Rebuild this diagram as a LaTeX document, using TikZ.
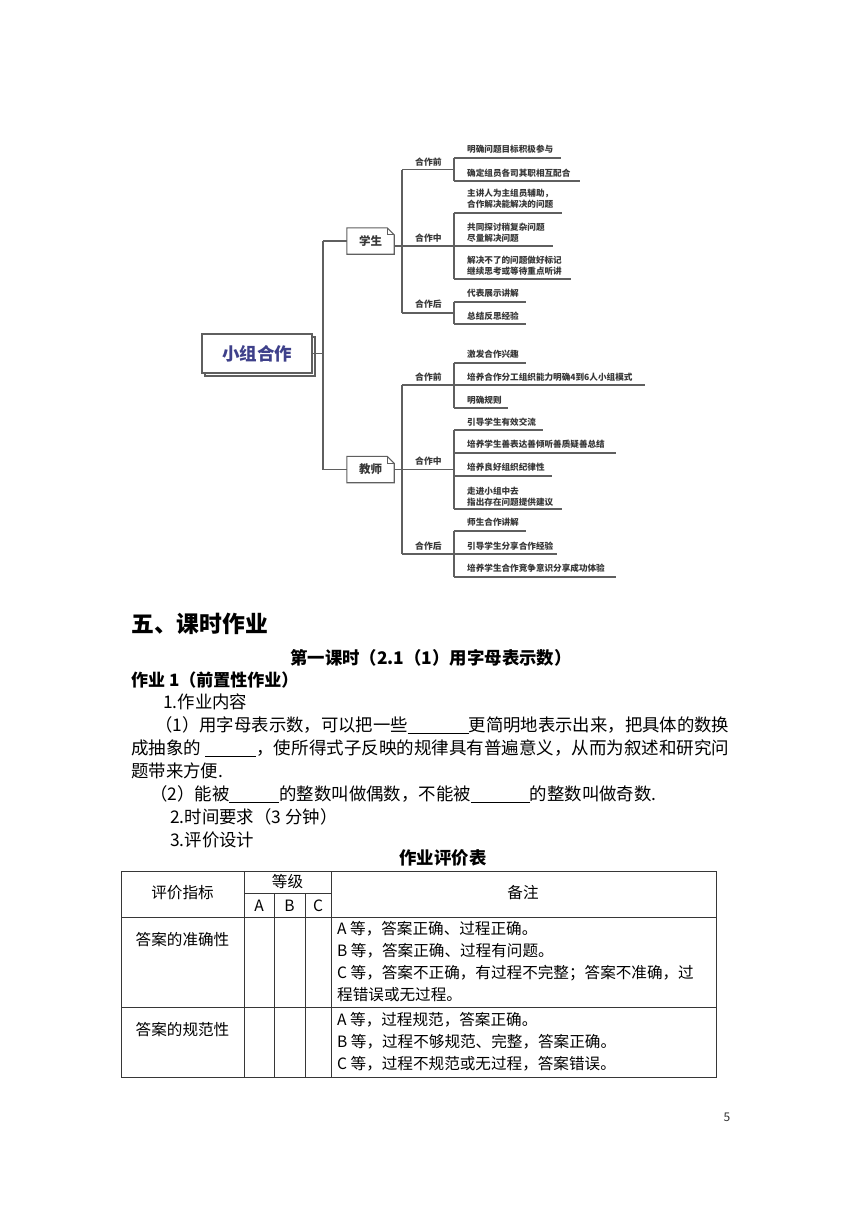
\documentclass[tikz,border=0pt]{standalone}
\usepackage{fontspec}
\usepackage{graphicx}
\setmainfont{Noto Sans CJK SC}
\usetikzlibrary{shadows}
\definecolor{mapgray}{RGB}{95,95,95}
\definecolor{maptext}{RGB}{55,55,55}
\definecolor{rootblue}{RGB}{62,64,138}
\definecolor{tabgray}{RGB}{55,55,55}
\newcommand\leafitem[5]{%
  \node[leaf] (#1) at (467,#2) {#5};
  \coordinate (#1u) at (454,#3);
  \coordinate (#1e) at (#4,#3);
  \draw[mapline] (#1u) -- (#1e);
}
\newcommand\blankline[1]{\rule[-2.5pt]{#1}{0.8pt}}
\begin{document}
\begin{tikzpicture}[x=1pt,y=-1pt,
  mapline/.style={draw=mapgray,line width=1.1pt},
  leaf/.style={anchor=west,inner sep=0pt,font=\bfseries\fontsize{8.6}{10.8}\selectfont,text=maptext,align=left},
  phase/.style={anchor=west,inner sep=0pt,font=\bfseries\fontsize{8.8}{11}\selectfont,text=maptext},
  notebox/.style={minimum width=47pt,minimum height=26pt,inner sep=0pt,font=\bfseries\fontsize{11.5}{13}\selectfont,text=maptext},
  rootbox/.style={draw=mapgray,line width=1.1pt,fill=white,minimum width=110pt,minimum height=39pt,inner sep=0pt,
    font=\bfseries\fontsize{17.5}{20}\selectfont,text=rootblue,copy shadow={shadow xshift=3pt,shadow yshift=-3pt}},
  body/.style={anchor=west,inner sep=0pt,font=\fontsize{17.4}{20}\selectfont},
  headb/.style={inner sep=0pt,font=\bfseries\fontsize{17.4}{20}\selectfont},
  cell/.style={inner sep=0pt,font=\fontsize{15.6}{18}\selectfont},
  note/.style={cell,anchor=west},
  tabline/.style={draw=tabgray,line width=0.9pt}]
\path[use as bounding box,fill=white] (0,0) rectangle (860,1216);

% ---------------- mind map ----------------
\node[rootbox] (root) at (257,353.5) {小组合作};
\node[notebox] (stu) at (370.5,241) {学生};
\node[notebox] (tch) at (370.5,469.5) {教师};
\foreach \b in {stu,tch}{
  \draw[mapline] (\b.north west) -- ([xshift=-7pt]\b.north east) -- ([yshift=-7pt]\b.north east)
     -- (\b.south east) -- (\b.south west) -- cycle;
  \draw[mapline,line width=0.8pt] ([xshift=-7pt]\b.north east) -- ([xshift=-7pt,yshift=-7pt]\b.north east)
     -- ([yshift=-7pt]\b.north east);
}
\coordinate (rj) at (323,353.5);
\coordinate (rs) at (323,241);
\coordinate (rt) at (323,469.5);
\draw[mapline] (root.east) -- (rj);
\draw[mapline] (rs) -- (rt);
\draw[mapline] (rs) -- (stu.west);
\draw[mapline] (rt) -- (tch.west);

% student leaves
\leafitem{s1}{149}{158}{561}{明确问题目标积极参与}
\leafitem{s2}{173}{181}{580}{确定组员各司其职相互配合}
\leafitem{s3}{198.5}{213}{562}{主讲人为主组员辅助，\\合作解决能解决的问题}
\leafitem{s4}{233}{246}{553}{共同探讨稍复杂问题\\尽量解决问题}
\leafitem{s5}{266}{279}{571}{解决不了的问题做好标记\\继续思考或等待重点听讲}
\leafitem{s6}{293}{302}{526}{代表展示讲解}
\leafitem{s7}{316}{324}{526}{总结反思经验}
\draw[mapline] (s1u) -- (s2u);
\draw[mapline] (s3u) -- (s5u);
\draw[mapline] (s6u) -- (s7u);
\coordinate (sp1) at (402,169.5);
\coordinate (sp2) at (402,246);
\coordinate (sp3) at (402,313);
\draw[mapline] (sp1) -- (sp3);
\draw[mapline] (sp1) -- (sp1 -| s1u);
\draw[mapline] (stu.east |- sp2) -- (sp2 -| s4u);
\draw[mapline] (sp3) -- (sp3 -| s6u);
\node[phase] (sq1) at (415,162) {合作前};
\node[phase] (sq2) at (415,238) {合作中};
\node[phase] (sq3) at (415,304) {合作后};

% teacher leaves
\leafitem{t1}{354}{363}{526}{激发合作兴趣}
\leafitem{t2}{377}{385}{645}{培养合作分工组织能力明确4到6人小组模式}
\leafitem{t3}{400}{408}{508}{明确规则}
\leafitem{t4}{422}{430}{543}{引导学生有效交流}
\leafitem{t5}{444}{453}{616}{培养学生善表达善倾听善质疑善总结}
\leafitem{t6}{467}{476}{552}{培养良好组织纪律性}
\leafitem{t7}{496.5}{509}{562}{走进小组中去\\指出存在问题提供建议}
\leafitem{t8}{522}{531}{526}{师生合作讲解}
\leafitem{t9}{546}{554}{557}{引导学生分享合作经验}
\leafitem{t10}{568}{577}{616}{培养学生合作竞争意识分享成功体验}
\draw[mapline] (t1u) -- (t3u);
\draw[mapline] (t4u) -- (t7u);
\draw[mapline] (t8u) -- (t10u);
\coordinate (tp1) at (402,385);
\coordinate (tp2) at (402,469.5);
\coordinate (tp3) at (402,554);
\draw[mapline] (tp1) -- (tp3);
\draw[mapline] (tp1) -- (tp1 -| t1u);
\draw[mapline] (tch.east |- tp2) -- (tp2 -| t4u);
\draw[mapline] (tp3) -- (tp3 -| t8u);
\node[phase] (tq1) at (415,377) {合作前};
\node[phase] (tq2) at (415,461) {合作中};
\node[phase] (tq3) at (415,546) {合作后};

% ---------------- text ----------------
\node[anchor=west,inner sep=0pt,font=\bfseries\fontsize{22.8}{26}\selectfont] (h5) at (131,624) {五、课时作业};
\node[headb] (h1) at (431,658) {第一课时（2.1（1）用字母表示数）};
\node[headb,anchor=west,font=\bfseries\fontsize{17}{20}\selectfont] (hw) at (131,680) {作业 1（前置性作业）};
\node[body] (b1) at (163,702) {1.作业内容};
\node[body] (b2) at (155,725) {\resizebox{574pt}{\height}{（1）用字母表示数，可以把一些\blankline{61pt}更简明地表示出来，把具体的数换}};
\node[body] (b3) at (131,748) {\resizebox{598pt}{\height}{成抽象的 \blankline{51pt}，使所得式子反映的规律具有普遍意义，从而为叙述和研究问}};
\node[body] (b4) at (131,771) {题带来方便.};
\node[body] (b5) at (150,794) {（2）能被\blankline{50pt}的整数叫做偶数，不能被\blankline{59pt}的整数叫做奇数.};
\node[body] (b6) at (170,817) {2.时间要求（3 分钟）};
\node[body] (b7) at (170,840) {3.评价设计};
\node[headb] (tt) at (443,858) {作业评价表};

% ---------------- table ----------------
\draw[tabline] (121,871) rectangle (716,1077);
\draw[tabline] (121,917) -- (716,917);
\draw[tabline] (121,1007) -- (716,1007);
\draw[tabline] (244,871) -- (244,1077);
\draw[tabline] (331,871) -- (331,1077);
\draw[tabline] (244,893) -- (331,893);
\draw[tabline] (274,893) -- (274,1077);
\draw[tabline] (305,893) -- (305,1077);

\node[cell] (c11) at (182.5,893) {评价指标};
\node[cell] (c12) at (287.5,882) {等级};
\node[cell] (ca) at (259,906) {A};
\node[cell] (cb) at (289.5,906) {B};
\node[cell] (cc) at (318,906) {C};
\node[cell] (c13) at (523,893) {备注};
\node[cell] (r1) at (182.5,940) {答案的准确性};
\node[note] (r1a) at (337,929) {A 等，答案正确、过程正确。};
\node[note] (r1b) at (337,951) {B 等，答案正确、过程有问题。};
\node[note] (r1c) at (337,973) {C 等，答案不正确，有过程不完整；答案不准确，过};
\node[note] (r1d) at (337,995) {程错误或无过程。};
\node[cell] (r2) at (182.5,1030) {答案的规范性};
\node[note] (r2a) at (337,1020) {A 等，过程规范，答案正确。};
\node[note] (r2b) at (337,1042) {B 等，过程不够规范、完整，答案正确。};
\node[note] (r2c) at (337,1064) {C 等，过程不规范或无过程，答案错误。};

\node[inner sep=0pt,font=\fontsize{12}{14}\selectfont,text=black!80] (pg) at (727,1117) {5};
\end{tikzpicture}
\end{document}
